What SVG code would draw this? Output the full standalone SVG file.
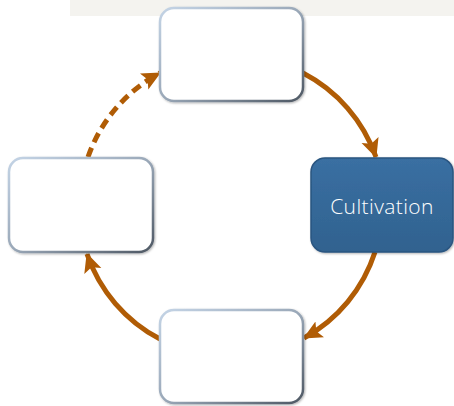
<svg xmlns="http://www.w3.org/2000/svg" width="454" height="406" viewBox="0 0 454 406">
<defs>
<linearGradient id="edge" x1="0" y1="0" x2="1" y2="1">
<stop offset="0" stop-color="#c4d4e6"/>
<stop offset="0.5" stop-color="#9aa8b8"/>
<stop offset="1" stop-color="#4e5864"/>
</linearGradient>
<linearGradient id="blueFill" x1="0" y1="0" x2="0" y2="1">
<stop offset="0" stop-color="#3a6fa2"/>
<stop offset="1" stop-color="#30628f"/>
</linearGradient>
<filter id="sh" x="-10%" y="-10%" width="125%" height="125%">
<feDropShadow dx="1" dy="1" stdDeviation="1.2" flood-color="#000" flood-opacity="0.3"/>
</filter>
<marker id="ah" markerUnits="userSpaceOnUse" markerWidth="20" markerHeight="20" viewBox="0 0 20 20" refX="18" refY="10" orient="auto">
<path d="M0,1 L19,10 L0,19 L4,10 Z" fill="#b05c05"/>
</marker>
</defs>
<style>
.node{fill:#ffffff;stroke:url(#edge);stroke-width:2.5;filter:url(#sh)}
.blue{fill:url(#blueFill);stroke:#2a5580;stroke-width:1.5;filter:url(#sh)}
.conn{fill:none;stroke:#b05c05;stroke-width:5;marker-end:url(#ah)}
.dash{stroke-dasharray:10 6}
.lbl{font-family:"Open Sans","DejaVu Sans",sans-serif;font-weight:300;font-size:21px;letter-spacing:0.4px;fill:#ffffff}
</style>
<rect x="70" y="0" width="384" height="16" fill="#f4f3ef"/>
<g id="connectors">
<path class="conn" d="M303,73 A151,151 0 0 1 376,157"/>
<path class="conn" d="M375,252 A151,151 0 0 1 304,338"/>
<path class="conn" d="M160,339 A151,151 0 0 1 87,254"/>
<path class="conn dash" d="M88,157 A151,151 0 0 1 160,73"/>
</g>
<g id="node-top"><rect class="node" x="160" y="8" width="143" height="93" rx="14"/></g>
<g id="node-cultivation"><rect class="blue" x="311" y="158" width="142" height="94" rx="14"/>
<text class="lbl" x="382" y="214" text-anchor="middle">Cultivation</text></g>
<g id="node-left"><rect class="node" x="9" y="158" width="144" height="94" rx="14"/></g>
<g id="node-bottom"><rect class="node" x="160" y="310" width="143" height="93" rx="14"/></g>
</svg>
